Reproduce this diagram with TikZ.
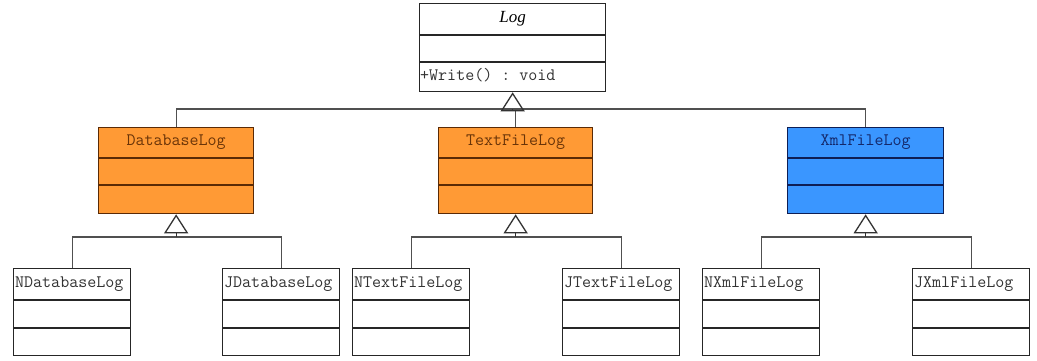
\documentclass[tikz,border=0pt]{standalone}
\usepackage{fontspec}
\setmonofont{Latin Modern Mono}
\newfontfamily\titleitalic{Liberation Serif}
\usetikzlibrary{arrows.meta}
\definecolor{orangefill}{HTML}{FF9A35}
\definecolor{orangeedge}{HTML}{5A2A05}
\definecolor{orangetext}{HTML}{6A3408}
\definecolor{bluefill}{HTML}{3A96FF}
\definecolor{blueedge}{HTML}{0E1E55}
\definecolor{bluetext}{HTML}{14286A}
\definecolor{wire}{HTML}{505050}
\tikzset{
  cls/.style={draw=black!85, line width=1.3pt, fill=white, inner sep=0pt, anchor=north west},
  orangecls/.style={cls, fill=orangefill, draw=orangeedge},
  bluecls/.style={cls, fill=bluefill, draw=blueedge},
  divider/.style={line width=1.3pt, draw=black!85},
  clsname/.style={font=\ttfamily\fontsize{17.5}{17.5}\selectfont, inner sep=0pt, text=black!80},
  wireline/.style={draw=wire, line width=1.3pt},
  gen/.style={wireline, -{Triangle[open, length=19pt, width=24pt, line width=1.3pt]}, draw=black!80}
}
\begin{document}
\begin{tikzpicture}[x=1pt, y=-1pt]
\fill[white] (0,0) rectangle (1037,360);
\useasboundingbox (0,0) rectangle (1037,360);

% root abstract class
\node[cls, minimum width=186pt, minimum height=88pt] (log) at (419,3) {};
\draw[divider] ([yshift=-32pt]log.north west) -- ([yshift=-32pt]log.north east);
\draw[divider] ([yshift=-59pt]log.north west) -- ([yshift=-59pt]log.north east);
\node[inner sep=0pt, font=\titleitalic\itshape\fontsize{17}{17}\selectfont] at ([yshift=-16pt]log.north) {Log};
\node[clsname, anchor=west] at ([xshift=1pt, yshift=-72pt]log.north west) {+Write() : void};

% second level
\node[orangecls, minimum width=155pt, minimum height=86pt] (db) at (98,127) {};
\node[orangecls, minimum width=154pt, minimum height=86pt] (tf) at (438,127) {};
\node[bluecls, minimum width=156pt, minimum height=86pt] (xf) at (787,127) {};
\foreach \n/\c in {db/orangeedge, tf/orangeedge, xf/blueedge}{
  \draw[divider, draw=\c] ([yshift=-31pt]\n.north west) -- ([yshift=-31pt]\n.north east);
  \draw[divider, draw=\c] ([yshift=-58pt]\n.north west) -- ([yshift=-58pt]\n.north east);
}
\node[clsname, text=orangetext] at ([yshift=-15pt]db.north) {DatabaseLog};
\node[clsname, text=orangetext] at ([yshift=-15pt]tf.north) {TextFileLog};
\node[clsname, text=bluetext] at ([yshift=-15pt]xf.north) {XmlFileLog};

% third level
\foreach \n/\x in {ndb/13, jdb/222, ntf/352, jtf/562, nxf/702, jxf/912}{
  \node[cls, minimum width=117pt, minimum height=87pt] (\n) at (\x,268) {};
  \draw[divider] ([yshift=-32pt]\n.north west) -- ([yshift=-32pt]\n.north east);
  \draw[divider] ([yshift=-60pt]\n.north west) -- ([yshift=-60pt]\n.north east);
}
\foreach \n/\t in {ndb/NDatabaseLog, jdb/JDatabaseLog, ntf/NTextFileLog, jtf/JTextFileLog, nxf/NXmlFileLog, jxf/JXmlFileLog}{
  \node[clsname, anchor=west] at ([xshift=2pt, yshift=-16pt]\n.north west) {\t};
}

% generalisation to Log
\coordinate (logbus) at (log.south |- 0,109);
\draw[wireline] (db.north) -- (db.north |- logbus) -- (xf.north |- logbus) -- (xf.north);
\draw[wireline] (tf.north) -- (tf.north |- logbus);
\draw[gen] (logbus) -- (log.south);

% generalisation to the second level
\foreach \p/\a/\b in {db/ndb/jdb, tf/ntf/jtf, xf/nxf/jxf}{
  \coordinate (\p bus) at (\p.south |- 0,237);
  \draw[wireline] (\a.north) -- (\a.north |- \p bus) -- (\b.north |- \p bus) -- (\b.north);
  \draw[gen] (\p bus) -- (\p.south);
}
\end{tikzpicture}
\end{document}
